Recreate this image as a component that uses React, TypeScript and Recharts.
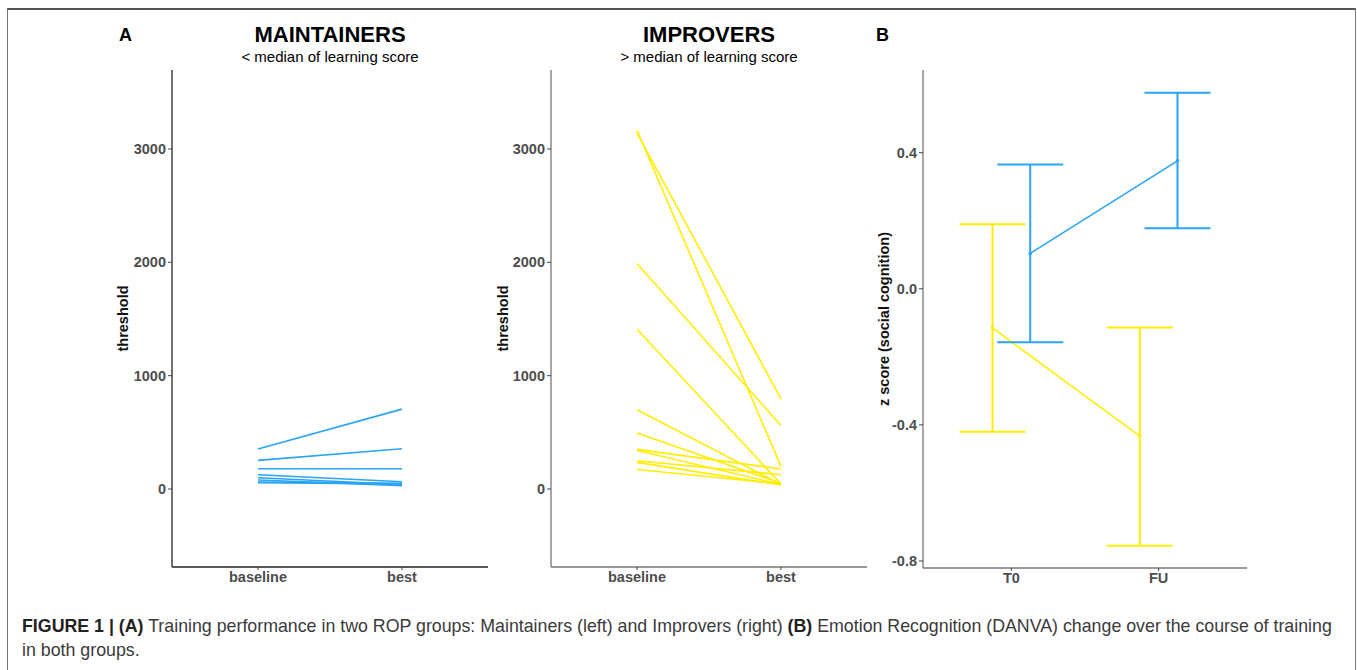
import React from 'react';
import { LineChart, ComposedChart, Line, XAxis, YAxis, ErrorBar } from 'recharts';

// Panel A: training thresholds per participant
const groupCategories = ['baseline', 'best'];
const maintainersBaseline = [353, 253, 179, 126, 100, 80, 62, 55];
const maintainersBest = [705, 355, 179, 64, 40, 30, 50, 45];
const improversBaseline = [3165, 3140, 1990, 1410, 700, 495, 350, 340, 250, 235, 172];
const improversBest = [200, 795, 560, 45, 40, 50, 177, 40, 126, 35, 45];
const thresholdTicks = [0, 1000, 2000, 3000];

// Panel B: emotion recognition z scores (mean and error bar limits)
const timepoints = ['T0', 'FU'];
const improversMean = [-0.115, -0.433];
const improversLow = [-0.42, -0.755];
const improversHigh = [0.19, -0.114];
const maintainersMean = [0.104, 0.376];
const maintainersLow = [-0.157, 0.178];
const maintainersHigh = [0.365, 0.576];
const zTicks = [-0.8, -0.4, 0, 0.4];

const BLUE = '#2AA4F4';
const YELLOW = '#FFEE00';
const FONT = '"Liberation Sans", Arial, sans-serif';
const DODGE = 0.128;

const tickStyle = { fontSize: 14.5, fontWeight: 'bold', fill: '#4d4d4d', fontFamily: FONT };

const toRows = (base: number[], best: number[]) =>
  groupCategories.map((cat, i) => {
    const row: any = { cat };
    (i === 0 ? base : best).forEach((v, j) => {
      row['s' + j] = v;
    });
    return row;
  });

const toPoints = (mean: number[], low: number[], high: number[], shift: number) =>
  timepoints.map((t, i) => ({
    x: i + 1 + shift,
    y: mean[i],
    err: [mean[i] - low[i], high[i] - mean[i]],
  }));

const ThresholdPanel = ({ base, best, color, axisColor, marginLeft, labelOffset }: any) => {
  const rows = toRows(base, best);
  return (
    <LineChart width={marginLeft + 60 + 316 + 12} height={600} data={rows}
      margin={{ top: 70, right: 12, left: marginLeft, bottom: 0 }}>
      <XAxis dataKey="cat" height={33} padding={{ left: 86, right: 86 }}
        tick={tickStyle} tickSize={3} tickMargin={2}
        axisLine={{ stroke: axisColor, strokeWidth: 1.3 }} tickLine={{ stroke: '#444' }} />
      <YAxis width={60} domain={[-688, 3697]} ticks={thresholdTicks} allowDataOverflow
        tick={tickStyle} tickSize={4} tickMargin={2}
        axisLine={{ stroke: axisColor, strokeWidth: 1.3 }} tickLine={{ stroke: '#444' }}
        label={{ value: 'threshold', angle: -90, position: 'insideLeft', offset: labelOffset,
          style: { textAnchor: 'middle', fontSize: 14.5, fontWeight: 'bold', fill: '#111', fontFamily: FONT } }} />
      {base.map((_: number, j: number) => (
        <Line key={j} dataKey={'s' + j} stroke={color} strokeWidth={1.6} dot={false}
          isAnimationActive={false} />
      ))}
    </LineChart>
  );
};

const title = (text: string, cx: number, top: number, size: number, bold: boolean) => (
  <div style={{ position: 'absolute', left: cx - 200, top, width: 400, textAlign: 'center',
    fontSize: size, lineHeight: size + 'px', fontWeight: bold ? 'bold' : 'normal', color: '#000',
    fontFamily: FONT, whiteSpace: 'nowrap' }}>{text}</div>
);

export default function App() {
  const improversPts = toPoints(improversMean, improversLow, improversHigh, -DODGE);
  const maintainersPts = toPoints(maintainersMean, maintainersLow, maintainersHigh, DODGE);

  return (
    <div style={{ position: 'absolute', left: 0, top: 0, width: 1357, height: 670,
      background: '#fff', overflow: 'hidden', fontFamily: FONT }}>
      <div style={{ position: 'absolute', left: 7, top: 8, width: 1347, height: 700,
        borderTop: '2px solid #555', borderLeft: '1px solid #777', borderRight: '1px solid #777' }} />

      {title('MAINTAINERS', 330, 24, 22, true)}
      {title('< median of learning score', 330, 49, 15, false)}
      {title('IMPROVERS', 709, 24, 22, true)}
      {title('> median of learning score', 709, 49, 15, false)}
      <div style={{ position: 'absolute', left: 119, top: 26, fontSize: 18, lineHeight: '18px',
        fontWeight: 'bold', color: '#000' }}>A</div>
      <div style={{ position: 'absolute', left: 876, top: 26, fontSize: 18, lineHeight: '18px',
        fontWeight: 'bold', color: '#000' }}>B</div>

      <div style={{ position: 'absolute', left: 0, top: 0 }}>
        <ThresholdPanel base={maintainersBaseline} best={maintainersBest} color={BLUE}
          axisColor="#222" marginLeft={112} labelOffset={11} />
      </div>
      <div style={{ position: 'absolute', left: 400, top: 0 }}>
        <ThresholdPanel base={improversBaseline} best={improversBest} color={YELLOW}
          axisColor="#777" marginLeft={91} labelOffset={12} />
      </div>

      <div style={{ position: 'absolute', left: 840, top: 0 }}>
        <ComposedChart width={420} height={600} margin={{ top: 70, right: 13, left: 23, bottom: 0 }}>
          <XAxis dataKey="x" type="number" domain={[0.4, 2.6]} ticks={[1, 2]} height={32}
            tickFormatter={(v: number) => timepoints[Math.round(v) - 1]}
            tick={tickStyle} tickSize={3} tickMargin={2}
            axisLine={{ stroke: '#777', strokeWidth: 1.3 }} tickLine={{ stroke: '#444' }} />
          <YAxis width={60} domain={[-0.8206, 0.643]} ticks={zTicks} allowDataOverflow
            tickFormatter={(v: number) => v.toFixed(1)}
            tick={tickStyle} tickSize={4} tickMargin={2}
            axisLine={{ stroke: '#777', strokeWidth: 1.3 }} tickLine={{ stroke: '#444' }}
            label={{ value: 'z score (social cognition)', angle: -90, position: 'insideLeft', offset: 21,
              style: { textAnchor: 'middle', fontSize: 14.5, fontWeight: 'bold', fill: '#111', fontFamily: FONT } }} />
          <Line data={improversPts} dataKey="y" stroke={YELLOW} strokeWidth={1.6}
            dot={{ r: 1, fill: YELLOW, stroke: YELLOW }} isAnimationActive={false}>
            <ErrorBar dataKey="err" width={33} stroke={YELLOW} strokeWidth={2} direction="y"
              isAnimationActive={false} />
          </Line>
          <Line data={maintainersPts} dataKey="y" stroke={BLUE} strokeWidth={1.6}
            dot={{ r: 1, fill: BLUE, stroke: BLUE }} isAnimationActive={false}>
            <ErrorBar dataKey="err" width={33} stroke={BLUE} strokeWidth={2} direction="y"
              isAnimationActive={false} />
          </Line>
        </ComposedChart>
      </div>

      <div style={{ position: 'absolute', left: 22, top: 614, fontSize: 17.8, lineHeight: '24px',
        color: '#3a3a3a', whiteSpace: 'nowrap' }}>
        <b style={{ color: '#222' }}>FIGURE 1 | (A)</b> Training performance in two ROP groups: Maintainers (left) and Improvers (right) <b style={{ color: '#222' }}>(B)</b> Emotion Recognition (DANVA) change over the course of training
        <br />in both groups.
      </div>
    </div>
  );
}
